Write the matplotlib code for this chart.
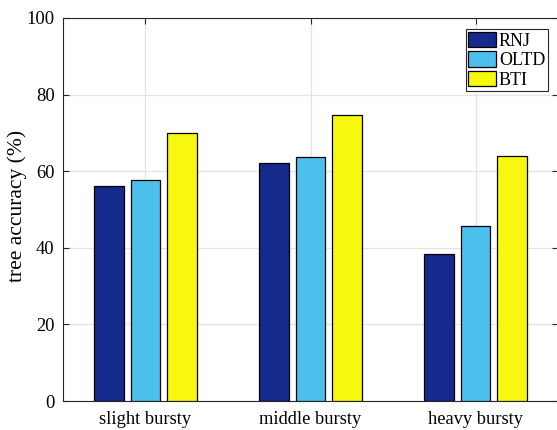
import matplotlib.pyplot as plt
import numpy as np

# accuracy per scenario (%)
groups = ["slight bursty", "middle bursty", "heavy bursty"]
methods = ["RNJ", "OLTD", "BTI"]
rnj = [56.2, 62.1, 38.3]
oltd = [57.8, 63.6, 45.7]
bti = [70.0, 74.6, 64.0]
colors = ["#152a8c", "#4dbfed", "#f7f70f"]

plt.rcParams["font.family"] = ["Liberation Serif", "DejaVu Serif"]

fig = plt.figure(figsize=(5.57, 4.30), dpi=100)
ax = fig.add_axes([0.113, 0.0674, 0.889, 0.891])

x = np.arange(1, len(groups) + 1)
width = 0.18
offsets = [-0.222, 0.0, 0.222]
for vals, off, col, name in zip([rnj, oltd, bti], offsets, colors, methods):
    ax.bar(x + off, vals, width, color=col, edgecolor="black", linewidth=0.9,
           label=name, zorder=3)

ax.set_xlim(0.5, 3.5)
ax.set_ylim(0, 100)
ax.set_xticks(x)
ax.set_xticklabels(groups)
ax.set_yticks(range(0, 101, 20))
ax.tick_params(axis="both", direction="in", labelsize=13.3, length=4,
               top=True, right=True, color="#262626")
ax.tick_params(axis="x", pad=7.5)
ax.tick_params(axis="y", pad=6)
ax.grid(True, color="#e3e3e3", linewidth=0.9, zorder=0)
ax.set_axisbelow(True)
for sp in ax.spines.values():
    sp.set_color("#262626")
    sp.set_linewidth(0.8)
ax.set_ylabel("tree accuracy (%)", fontsize=15.5, va="center")
ax.yaxis.set_label_coords(-0.093, 0.51)

leg = ax.legend(loc="upper right", bbox_to_anchor=(0.987, 0.98), fontsize=13,
                fancybox=False, framealpha=1, edgecolor="#262626",
                handlelength=1.55, handleheight=0.95, handletextpad=0.15,
                borderpad=0.15, labelspacing=0.08, borderaxespad=0.2)
leg.get_frame().set_linewidth(0.8)

fig.savefig("out.png", dpi=100)
